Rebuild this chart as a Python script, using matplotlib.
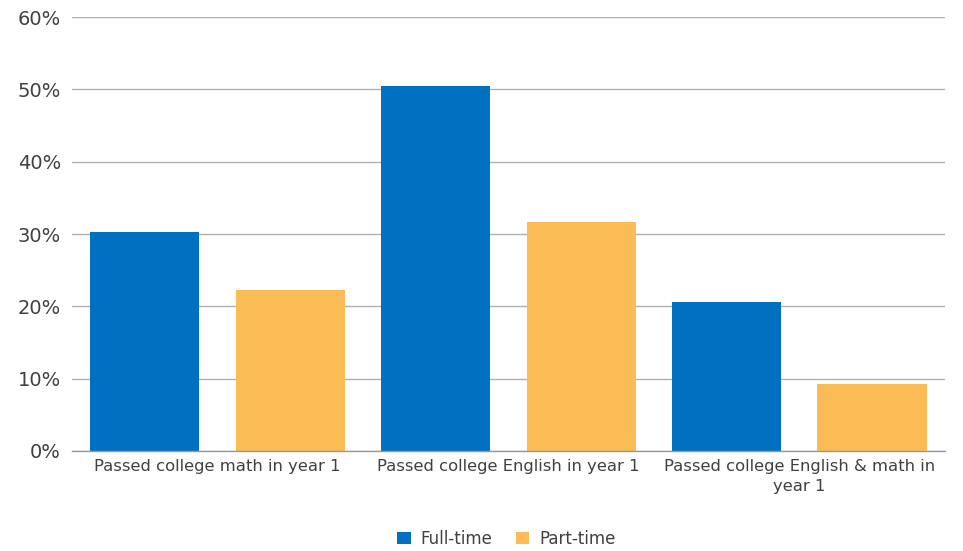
import numpy as np
from matplotlib import pyplot as plt

categories = ['Passed college math in year 1',
              'Passed college English in year 1',
              'Passed college English & math in\nyear 1']
full_time = [30.3, 50.5, 20.6]
part_time = [22.3, 31.7, 9.3]

blue = '#0070C0'
orange = '#FBBB55'
text_col = '#404040'

plt.rcParams['font.family'] = ['DejaVu Sans']

fig = plt.figure(figsize=(9.63, 5.51), dpi=100)
ax = fig.add_axes([0.0748, 0.1815, 0.9062, 0.7875])

x = np.arange(len(categories))
w = 0.375
ax.bar(x - 0.25, full_time, w, color=blue, label='Full-time', zorder=3)
ax.bar(x + 0.25, part_time, w, color=orange, label='Part-time', zorder=3)

ax.set_xlim(-0.5, len(categories) - 0.5)
ax.set_ylim(0, 60)
ax.set_yticks(np.arange(0, 61, 10))
ax.set_yticklabels(['%d%%' % v for v in range(0, 61, 10)], fontsize=14, color=text_col)
ax.set_xticks(x)
ax.set_xticklabels(categories, fontsize=11.8, color=text_col, linespacing=1.35)
ax.tick_params(axis='both', length=0, pad=8)
ax.tick_params(axis='x', pad=6)

ax.grid(axis='y', color='#b0b0b0', linewidth=1, zorder=0)
for s in ['top', 'right', 'left']:
    ax.spines[s].set_visible(False)
ax.spines['bottom'].set_color('#999999')
ax.spines['bottom'].set_linewidth(1)
ax.spines['bottom'].set_zorder(4)

leg = fig.legend(loc='center', bbox_to_anchor=(0.526, 0.022), ncol=2, frameon=False,
                 fontsize=12, handlelength=0.8, handleheight=0.8, columnspacing=1.4,
                 handletextpad=0.6)
for t in leg.get_texts():
    t.set_color(text_col)

fig.savefig('out.png', dpi=100)
